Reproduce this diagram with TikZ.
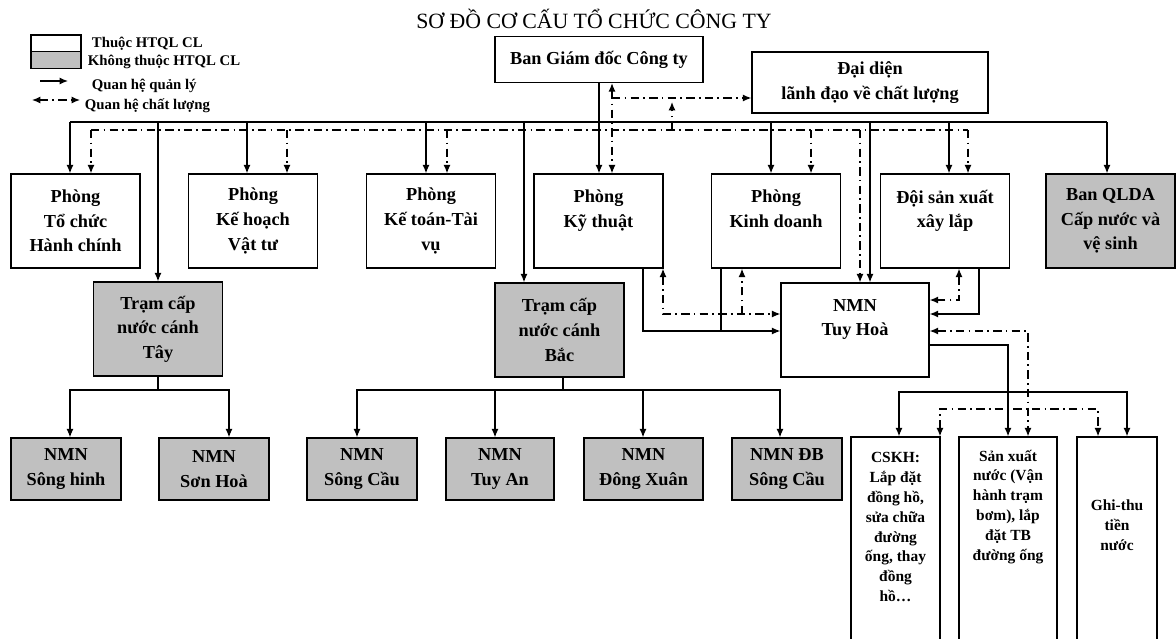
\documentclass[tikz,border=0pt]{standalone}
\usepackage{fontspec}
\setmainfont{Liberation Serif}
\usetikzlibrary{positioning,calc,arrows.meta}
\definecolor{boxgray}{RGB}{192,192,192}
\begin{document}
\begin{tikzpicture}[x=0.025cm,y=-0.025cm,
    box/.style={draw,line width=0.9pt,minimum width=3.225cm,minimum height=2.35cm,
        align=center,font=\fontsize{13}{17.5}\selectfont\bfseries},
    shaded/.style={box,fill=boxgray},
    nmn/.style={shaded,minimum width=2.75cm,minimum height=1.55cm},
    tallbox/.style={draw,line width=0.9pt,minimum height=5.5cm},
    smalltxt/.style={align=center,font=\fontsize{11}{14.2}\selectfont\bfseries},
    legtxt/.style={anchor=west,font=\fontsize{10.5}{12}\selectfont\bfseries},
    legbox/.style={draw,line width=0.9pt,minimum width=1.25cm,minimum height=0.42cm},
    link/.style={line width=0.9pt},
    mgmt/.style={->,>={Latex[length=6pt,width=5pt]},line width=0.9pt},
    qual/.style={>={Latex[length=6pt,width=5pt]},line width=0.9pt,
        dash pattern=on 6pt off 3pt on 1.2pt off 3pt}
]
    \useasboundingbox (0,0) rectangle (1176,638);
    \clip (0,0) rectangle (1176,638);

    \node[font=\fontsize{15.5}{18}\selectfont] (title) at (594,19)
        {SƠ ĐỒ CƠ CẤU TỔ CHỨC CÔNG TY};

    % legend
    \node[legbox] (legin) at (56,43.5) {};
    \node[legbox,fill=boxgray] (legout) at (56,60) {};
    \node[legtxt] (legintxt) at (87,44) {Thuộc HTQL CL};
    \node[legtxt] (legouttxt) at (83,62) {Không thuộc HTQL CL};
    \node[legtxt] (legmgmt) at (87,86) {Quan hệ quản lý};
    \node[legtxt] (legqual) at (80,106) {Quan hệ chất lượng};
    \coordinate (lgm1) at (40,81);
    \coordinate (lgm2) at (68,81);
    \coordinate (lgq1) at (32,100);
    \coordinate (lgq2) at (80,100);
    \draw[mgmt] (lgm1) -- (lgm2);
    \draw[qual,<->] (lgq1) -- (lgq2);

    % top level
    \node[box,minimum width=5.2cm,minimum height=1.15cm] (bgd) at (599,59.5)
        {Ban Giám đốc Công ty};
    \node[box,minimum width=5.9cm,minimum height=1.525cm] (dd) at (870,82.5)
        {Đại diện\\lãnh đạo về chất lượng};

    % departments
    \node[box] (tc) at (75.5,221) {Phòng\\Tổ chức\\Hành chính};
    \node[box] (kh) at (253,221) {Phòng\\Kế hoạch\\Vật tư};
    \node[box] (kt) at (431,221) {Phòng\\Kế toán-Tài\\vụ};
    \node[box] (kyt) at (598.5,221) {Phòng\\Kỹ thuật\\\mbox{}};
    \node[box] (kd) at (776,221) {Phòng\\Kinh doanh\\\mbox{}};
    \node[box] (dsx) at (945,221) {Đội sản xuất\\xây lắp\\\mbox{}};
    \node[shaded] (qlda) at (1110.5,221) {Ban QLDA\\Cấp nước và\\vệ sinh};

    % stations
    \node[shaded] (tay) at (158,329) {Trạm cấp\\nước cánh\\Tây};
    \node[shaded] (bac) at (559.5,330) {Trạm cấp\\nước cánh\\Bắc};
    \node[box,minimum width=3.7cm] (tuyhoa) at (855,330) {NMN\\Tuy Hoà\\\mbox{}};

    % plants
    \node[nmn] (songhinh) at (66,469) {NMN\\Sông hinh};
    \node[nmn] (sonhoa) at (214,469) {NMN\\Sơn Hoà};
    \node[nmn] (songcau) at (362,469) {NMN\\Sông Cầu};
    \node[nmn,minimum width=2.7cm] (tuyan) at (500,469) {NMN\\Tuy An};
    \node[nmn,minimum width=2.975cm] (dongxuan) at (643.5,469) {NMN\\Đông Xuân};
    \node[nmn] (dbsongcau) at (787,469) {NMN ĐB\\Sông Cầu};

    % units of NMN Tuy Hoà
    \node[tallbox,minimum width=2.225cm] (cskh) at (895.5,547) {};
    \node[tallbox,minimum width=2.45cm] (sx) at (1008,547) {};
    \node[tallbox,minimum width=2cm] (ghithu) at (1117,547) {};
    \node[smalltxt] (cskhtxt) at (895.5,527)
        {CSKH:\\Lắp đặt\\đồng hồ,\\sửa chữa\\đường\\ống, thay\\đồng\\hồ…};
    \node[smalltxt] (sxtxt) at (1008,507)
        {Sản xuất\\nước (Vận\\hành trạm\\bơm), lắp\\đặt TB\\đường ống};
    \node[smalltxt] (ghithutxt) at (1117,525) {Ghi-thu\\tiền\\nước};

    % management bus
    \coordinate (busL) at (70,122);
    \coordinate (busR) at (1107,122);
    \draw[link] (busL) -- (busR);
    \foreach \x/\n in {70/tc,158/tay,247/kh,426/kt,524/bac,771/kd,870/tuyhoa,949/dsx,1107/qlda}
        \draw[mgmt] (\x,122) -- (\n.north -| \x,0);
    \draw[mgmt] (bgd.south) -- (bgd.south |- kyt.north);

    % quality bus
    \coordinate (qualL) at (91,130);
    \coordinate (qualR) at (968,130);
    \draw[qual] (qualL) -- (qualR);
    \foreach \x/\n in {91/tc,287/kh,447/kt,811/kd,860/tuyhoa,968/dsx}
        \draw[qual,->] (\x,130) -- (\n.north -| \x,0);
    \draw[qual,<->] (bgd.south -| 612,0) -- (kyt.north -| 612,0);
    \draw[qual,->] (612,98) -- (dd.west |- 0,98);
    \draw[qual,->] (672,130) -- (672,102);

    % departments and NMN Tuy Hoà
    \draw[mgmt] (kyt.south -| 643,0) |- (tuyhoa.west |- 0,331);
    \draw[link] (kd.south -| 721,0) -- (721,331);
    \draw[qual,<->] (kyt.south -| 663,0) |- (tuyhoa.west |- 0,314);
    \draw[qual,->] (742,314) -- (kd.south -| 742,0);
    \draw[qual,<->] (dsx.south -| 959,0) |- (tuyhoa.east |- 0,300);
    \draw[mgmt] (dsx.south -| 979,0) |- (tuyhoa.east |- 0,314);

    % NMN Tuy Hoà and its units
    \draw[mgmt] (tuyhoa.east |- 0,345) -| (sx.north);
    \draw[mgmt,<->] (cskh.north -| 899,0) |- (1127,392) -- (ghithu.north -| 1127,0);
    \draw[qual,<->] (tuyhoa.east |- 0,331) -| (sx.north -| 1028,0);
    \draw[qual,<->] (cskh.north -| 940,0) |- (1098,409) -- (ghithu.north -| 1098,0);

    % stations and plants
    \coordinate (tayJ) at (158,390);
    \draw[link] (tay.south) -- (tayJ);
    \foreach \x/\n in {70/songhinh,229/sonhoa}
        \draw[mgmt] (tayJ) -| (\n.north -| \x,0);
    \coordinate (bacJ) at (563,390);
    \draw[link] (bac.south -| bacJ) -- (bacJ);
    \foreach \x/\n in {357/songcau,495/tuyan,643/dongxuan,780/dbsongcau}
        \draw[mgmt] (bacJ) -| (\n.north -| \x,0);
\end{tikzpicture}
\end{document}
